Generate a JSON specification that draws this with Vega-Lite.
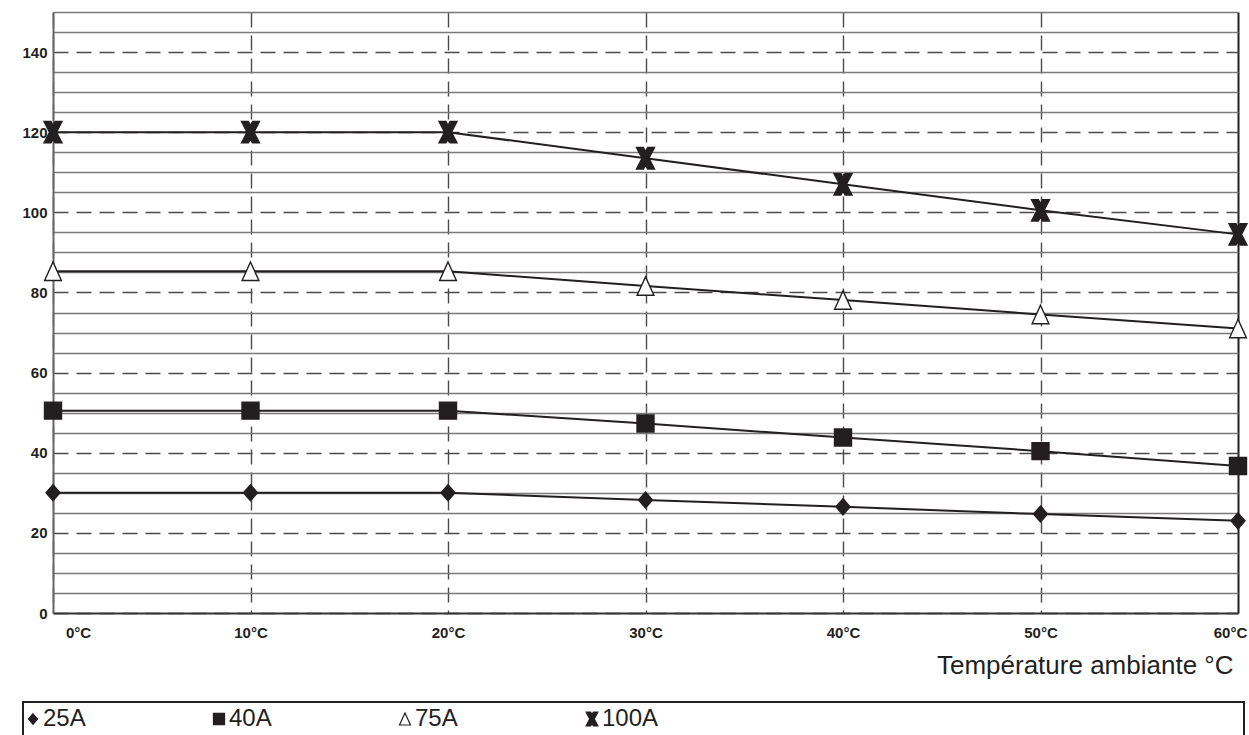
{
  "$schema": "https://vega.github.io/schema/vega-lite/v6.json",
  "padding": {"left": 21, "top": 5, "right": 0, "bottom": 0},
  "width": 1185,
  "height": 601,
  "config": {"font": "Liberation Sans", "view": {"stroke": null}, "legend": {"strokeWidth": 2}},
  "data": {
    "values": [
      {"series": "25A", "temp": 0, "value": 30},
      {"series": "25A", "temp": 10, "value": 30},
      {"series": "25A", "temp": 20, "value": 30},
      {"series": "25A", "temp": 30, "value": 28.2},
      {"series": "25A", "temp": 40, "value": 26.5},
      {"series": "25A", "temp": 50, "value": 24.7},
      {"series": "25A", "temp": 60, "value": 23},
      {"series": "40A", "temp": 0, "value": 50.5},
      {"series": "40A", "temp": 10, "value": 50.5},
      {"series": "40A", "temp": 20, "value": 50.5},
      {"series": "40A", "temp": 30, "value": 47.3},
      {"series": "40A", "temp": 40, "value": 43.8},
      {"series": "40A", "temp": 50, "value": 40.4},
      {"series": "40A", "temp": 60, "value": 36.7},
      {"series": "75A", "temp": 0, "value": 85.3},
      {"series": "75A", "temp": 10, "value": 85.3},
      {"series": "75A", "temp": 20, "value": 85.3},
      {"series": "75A", "temp": 30, "value": 81.6},
      {"series": "75A", "temp": 40, "value": 78.1},
      {"series": "75A", "temp": 50, "value": 74.5},
      {"series": "75A", "temp": 60, "value": 71},
      {"series": "100A", "temp": 0, "value": 120},
      {"series": "100A", "temp": 10, "value": 120},
      {"series": "100A", "temp": 20, "value": 120},
      {"series": "100A", "temp": 30, "value": 113.5},
      {"series": "100A", "temp": 40, "value": 107},
      {"series": "100A", "temp": 50, "value": 100.5},
      {"series": "100A", "temp": 60, "value": 94.5}
    ]
  },
  "encoding": {
    "x": {
      "field": "temp",
      "type": "quantitative",
      "scale": {"domain": [0, 60], "nice": false, "zero": false},
      "axis": {
        "values": [0, 10, 20, 30, 40, 50, 60],
        "labelExpr": "datum.value + '°C'",
        "labelFont": "Liberation Sans",
        "labelFontSize": 15,
        "labelFontWeight": "bold",
        "labelColor": "#231f20",
        "labelPadding": 12,
        "labelFlush": false,
        "labelOverlap": false,
        "labelBound": false,
        "labelOffset": {"condition": [{"test": "datum.value === 0", "value": 25}, {"test": "datum.value === 60", "value": -8}], "value": 0},
        "ticks": false,
        "domain": true,
        "domainColor": "#333333",
        "domainWidth": 2,
        "grid": true,
        "gridColor": {"condition": {"test": "datum.value === 60", "value": "#231f20"}, "value": "#4a4a4a"},
        "gridDash": {"condition": {"test": "datum.value === 60", "value": []}, "value": [15, 8]},
        "gridWidth": {"condition": {"test": "datum.value === 60", "value": 2}, "value": 1.4},
        "title": "Température ambiante °C",
        "titleFont": "Liberation Sans",
        "titleFontSize": 26,
        "titleFontWeight": "normal",
        "titleColor": "#231f20",
        "titleX": 1180,
        "titleAlign": "right",
        "titlePadding": 12
      }
    },
    "y": {
      "field": "value",
      "type": "quantitative",
      "scale": {"domain": [0, 150], "nice": false},
      "axis": {
        "values": [0, 5, 10, 15, 20, 25, 30, 35, 40, 45, 50, 55, 60, 65, 70, 75, 80, 85, 90, 95, 100, 105, 110, 115, 120, 125, 130, 135, 140, 145, 150],
        "labelExpr": "datum.value % 20 === 0 ? datum.label : ''",
        "labelFont": "Liberation Sans",
        "labelFontSize": 15,
        "labelFontWeight": "bold",
        "labelColor": "#231f20",
        "labelPadding": 6,
        "labelOverlap": false,
        "labelBound": false,
        "ticks": false,
        "domain": true,
        "domainColor": "#666666",
        "domainWidth": 2,
        "grid": true,
        "gridColor": {"condition": {"test": "datum.value % 20 === 0", "value": "#4a4a4a"}, "value": "#7a7a7a"},
        "gridDash": {"condition": {"test": "datum.value % 20 === 0", "value": [15, 8]}, "value": []},
        "gridWidth": 1.4,
        "title": null
      }
    }
  },
  "layer": [
    {
      "mark": {"type": "line", "color": "#231f20", "strokeWidth": 2},
      "encoding": {"detail": {"field": "series"}}
    },
    {
      "mark": {"type": "point", "size": 400, "filled": true, "opacity": 1, "stroke": "#231f20", "strokeWidth": 1.4},
      "encoding": {
        "shape": {
          "field": "series",
          "type": "nominal",
          "scale": {
            "domain": ["25A", "40A", "75A", "100A"],
            "range": [
              "M0,-0.8L0.7,0L0,0.8L-0.7,0Z",
              "M-0.85,-0.85L0.85,-0.85L0.85,0.85L-0.85,0.85Z",
              "M0,-0.92L0.84,0.92L-0.84,0.92Z",
              "M-0.9,-1.07L-0.21,-1.07L0,-0.67L0.21,-1.07L0.9,-1.07L0.35,0L0.9,1.07L0.21,1.07L0,0.67L-0.21,1.07L-0.9,1.07L-0.35,0Z"
            ]
          },
          "legend": {
            "title": null,
            "orient": "none",
            "legendX": -30,
            "legendY": 690,
            "direction": "horizontal",
            "gridAlign": "each",
            "columnPadding": 125,
            "padding": 5,
            "strokeColor": "#231f20",
            "symbolSize": 170,
            "symbolStrokeWidth": 1.2,
            "symbolOpacity": 1,
            "symbolOffset": -7,
            "labelFont": "Liberation Sans",
            "labelFontSize": 24,
            "labelColor": "#231f20",
            "labelOffset": -2,
            "labelLimit": 2000,
            "labelExpr": "datum.label === '100A' ? pad(datum.label, 91, '\u00a0') + '\u200b' : datum.label"
          }
        },
        "fill": {
          "field": "series",
          "type": "nominal",
          "scale": {
            "domain": ["25A", "40A", "75A", "100A"],
            "range": ["#231f20", "#231f20", "#ffffff", "#231f20"]
          },
          "legend": {
            "title": null,
            "orient": "none",
            "legendX": -30,
            "legendY": 690,
            "direction": "horizontal",
            "gridAlign": "each",
            "columnPadding": 125,
            "padding": 5,
            "strokeColor": "#231f20",
            "symbolSize": 170,
            "symbolStrokeWidth": 1.2,
            "symbolOpacity": 1,
            "symbolOffset": -7,
            "labelFont": "Liberation Sans",
            "labelFontSize": 24,
            "labelColor": "#231f20",
            "labelOffset": -2,
            "labelLimit": 2000,
            "labelExpr": "datum.label === '100A' ? pad(datum.label, 91, '\u00a0') + '\u200b' : datum.label"
          }
        }
      }
    }
  ]
}
